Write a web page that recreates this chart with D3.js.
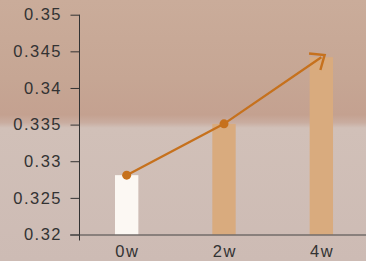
<!DOCTYPE html>
<html>
<head>
<meta charset="utf-8">
<script src="https://cdn.jsdelivr.net/npm/d3@7"></script>
<style>
  html, body { margin: 0; padding: 0; }
  body { width: 366px; height: 261px; overflow: hidden; }
  text { font-family: "Liberation Sans", Arial, sans-serif; }
</style>
</head>
<body>
<div id="chart"></div>
<script>
const weeks = ["0w", "2w", "4w"];
const barValues = [0.3281, 0.3351, 0.3442];
const barColors = ["#fcf8f3", "#d9ab7e", "#d9ab7e"];
const yTicks = [0.32, 0.325, 0.33, 0.335, 0.34, 0.345, 0.35];

const width = 366;
const height = 261;

const svg = d3.select("#chart")
  .append("svg")
  .attr("width", width)
  .attr("height", height);

// fond (photo floue)
const defs = svg.append("defs");
const grad = defs.append("linearGradient")
  .attr("id", "bg")
  .attr("x1", 0).attr("y1", 0).attr("x2", 0).attr("y2", 1);
[
  [0, "#caac9a"],
  [0.3, "#c6a694"],
  [0.44, "#c4a190"],
  [0.47, "#c9ada0"],
  [0.49, "#d1c0b8"],
  [1, "#cdbbb4"]
].forEach(([o, c]) => grad.append("stop").attr("offset", o).attr("stop-color", c));

svg.append("rect")
  .attr("width", width)
  .attr("height", height)
  .attr("fill", "url(#bg)");

const y = d3.scaleLinear()
  .domain([0.32, 0.35])
  .range([234.5, 14.7]);

const x = d3.scaleBand()
  .domain(weeks)
  .range([78, 370])
  .paddingInner(0.76)
  .paddingOuter(0.38);

// barres
svg.selectAll("rect.bar")
  .data(weeks)
  .enter()
  .append("rect")
  .attr("class", "bar")
  .attr("x", d => x(d))
  .attr("y", (d, i) => y(barValues[i]))
  .attr("width", x.bandwidth())
  .attr("height", (d, i) => y(0.32) - y(barValues[i]))
  .attr("fill", (d, i) => barColors[i]);

// axe Y
const yAxis = svg.append("g")
  .attr("transform", "translate(79.5,0)")
  .call(d3.axisLeft(y).tickValues(yTicks).tickSize(9).tickPadding(8.5).tickFormat(d => d3.format("")(+d.toFixed(3))));
yAxis.select(".domain").remove();
yAxis.selectAll(".tick line").attr("stroke", "#333");
yAxis.selectAll("text")
  .attr("fill", "#333")
  .style("font-size", "16.5px")
  .style("letter-spacing", "1.5px");

svg.append("line")
  .attr("x1", 79.5).attr("x2", 79.5)
  .attr("y1", y(0.35)).attr("y2", y(0.32) + 6)
  .attr("stroke", "#333");

// axe X
const xAxis = svg.append("g")
  .attr("transform", `translate(0,${y(0.32)})`)
  .call(d3.axisBottom(x).tickSize(0).tickPadding(10.5));
xAxis.select(".domain").remove();
xAxis.selectAll("text")
  .attr("fill", "#333")
  .attr("dx", "0.75px")
  .style("font-size", "16.5px")
  .style("letter-spacing", "1.5px");

svg.append("line")
  .attr("x1", 70).attr("x2", width)
  .attr("y1", y(0.32) + 0.5).attr("y2", y(0.32) + 0.5)
  .attr("stroke", "#444");

// ligne de tendance + flèche
const lineColor = "#c6711d";
defs.append("marker")
  .attr("id", "arrow")
  .attr("markerUnits", "userSpaceOnUse")
  .attr("viewBox", "-18 -12 22 24")
  .attr("refX", -4)
  .attr("refY", 0)
  .attr("markerWidth", 22)
  .attr("markerHeight", 24)
  .attr("orient", "auto")
  .append("path")
  .attr("d", "M-12,-10 L0,0 L-12,10")
  .attr("fill", "none")
  .attr("stroke", lineColor)
  .attr("stroke-width", 2.4);

const pts = weeks.map((w, i) => [x(w) + x.bandwidth() / 2, y(barValues[i])]);

svg.append("path")
  .datum(pts)
  .attr("d", d3.line())
  .attr("fill", "none")
  .attr("stroke", lineColor)
  .attr("stroke-width", 2.3)
  .attr("marker-end", "url(#arrow)");

svg.selectAll("circle.pt")
  .data(pts.slice(0, 2))
  .enter()
  .append("circle")
  .attr("class", "pt")
  .attr("cx", d => d[0])
  .attr("cy", d => d[1])
  .attr("r", 4.5)
  .attr("fill", lineColor);
</script>
</body>
</html>
